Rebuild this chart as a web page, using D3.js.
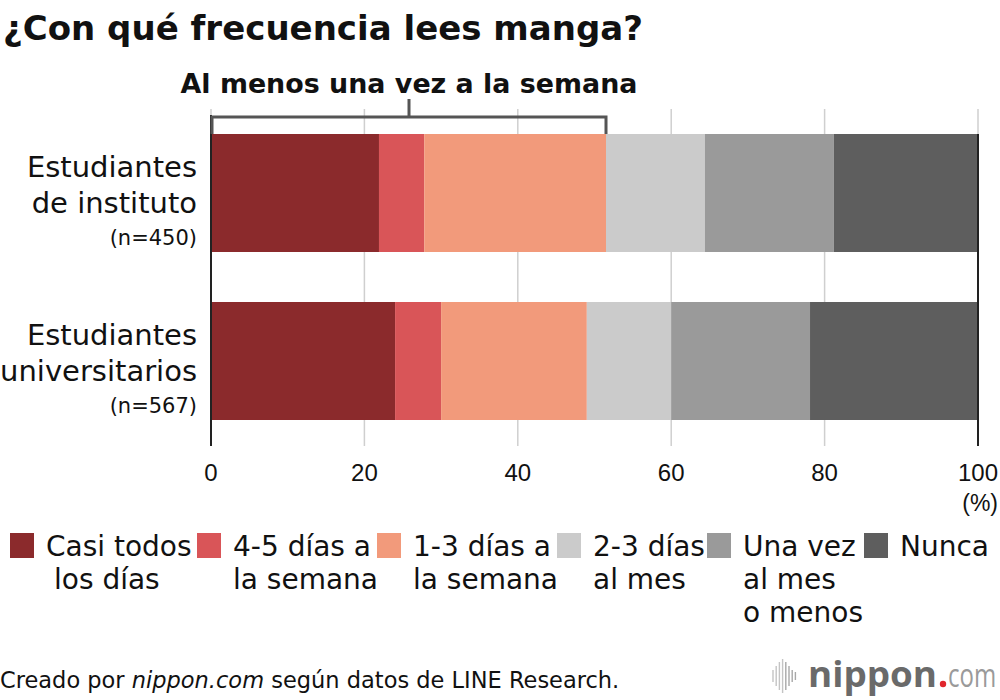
<!DOCTYPE html>
<html>
<head>
<meta charset="utf-8">
<script src="https://cdn.jsdelivr.net/npm/d3@7"></script>
<style>
  body { margin: 0; background: #fff; }
  svg { font-family: "DejaVu Sans", "Liberation Sans", Arial, sans-serif; }
</style>
</head>
<body>
<div id="chart"></div>
<script>
// Data
const groups = ["instituto", "universitarios"];
const groupLabels = [
  ["Estudiantes", "de instituto", "(n=450)"],
  ["Estudiantes", "universitarios", "(n=567)"]
];
const categories = [
  "Casi todos los días", "4-5 días a la semana", "1-3 días a la semana",
  "2-3 días al mes", "Una vez al mes o menos", "Nunca"
];
const legendLines = [
  ["Casi todos", "los días"],
  ["4-5 días a", "la semana"],
  ["1-3 días a", "la semana"],
  ["2-3 días", "al mes"],
  ["Una vez", "al mes", "o menos"],
  ["Nunca"]
];
const valuesInstituto = [21.9, 5.9, 23.7, 12.9, 16.8, 18.8];
const valuesUniversitarios = [24.0, 6.0, 19.0, 11.0, 18.1, 21.9];
const ticks = [0, 20, 40, 60, 80, 100];
const colors = ["#8b2a2c", "#d95558", "#f29a7b", "#cbcbcb", "#9a9a9a", "#5e5e5e"];

const width = 1000, height = 700;
const svg = d3.select("#chart").append("svg")
  .attr("width", width).attr("height", height);

const x = d3.scaleLinear().domain([0, 100]).range([211, 978]);
const y = d3.scaleBand().domain(groups).range([134, 420]).paddingInner(0.2976);

// title
svg.append("text")
  .attr("x", 3).attr("y", 40)
  .attr("font-size", 33).attr("font-weight", "bold").attr("fill", "#111")
  .attr("textLength", 640).attr("lengthAdjust", "spacingAndGlyphs")
  .text("¿Con qué frecuencia lees manga?");

// gridlines
svg.append("g").selectAll("line")
  .data(ticks)
  .join("line")
  .attr("x1", d => x(d)).attr("x2", d => x(d))
  .attr("y1", 109)
  .attr("y2", 446)
  .attr("stroke", "#cfcfcf")
  .attr("stroke-width", 1.5);

// bars
const series = [valuesInstituto, valuesUniversitarios];
series.forEach((vals, i) => {
  let acc = 0;
  const segs = vals.map((v, j) => {
    const s = { x0: acc, x1: acc + v, c: j };
    acc += v;
    return s;
  });
  svg.append("g").selectAll("rect")
    .data(segs)
    .join("rect")
    .attr("x", d => x(d.x0))
    .attr("width", d => x(d.x1) - x(d.x0))
    .attr("y", y(groups[i]))
    .attr("height", y.bandwidth())
    .attr("fill", d => colors[d.c]);
});

// axis edges on top
svg.append("g").selectAll("line")
  .data([0, 100])
  .join("line")
  .attr("x1", d => x(d)).attr("x2", d => x(d))
  .attr("y1", d => d === 0 ? 115 : 134).attr("y2", 446)
  .attr("stroke", "#222").attr("stroke-width", 2);

// bracket: at least once a week (first three categories)
const weekly = d3.sum(valuesInstituto.slice(0, 3));
const bx0 = x(0) + 1, bx1 = x(weekly), by = 117;
const bracket = svg.append("g").attr("stroke", "#555").attr("stroke-width", 3).attr("fill", "none");
bracket.append("path")
  .attr("d", `M${bx0},134V${by}H${bx1}V134`);
bracket.append("line")
  .attr("x1", (bx0 + bx1) / 2).attr("x2", (bx0 + bx1) / 2)
  .attr("y1", 99).attr("y2", by);
svg.append("text")
  .attr("x", (bx0 + bx1) / 2).attr("y", 93)
  .attr("text-anchor", "middle")
  .attr("font-size", 27).attr("font-weight", "bold").attr("fill", "#111")
  .attr("textLength", 457).attr("lengthAdjust", "spacingAndGlyphs")
  .text("Al menos una vez a la semana");

// group labels
groups.forEach((g, i) => {
  const top = y(g);
  const lab = svg.append("text").attr("text-anchor", "end").attr("fill", "#111");
  lab.append("tspan").attr("x", 197).attr("y", top + 43).attr("font-size", 29).text(groupLabels[i][0]);
  lab.append("tspan").attr("x", 197).attr("y", top + 79).attr("font-size", 29).text(groupLabels[i][1]);
  lab.append("tspan").attr("x", 197).attr("y", top + 111).attr("font-size", 21).text(groupLabels[i][2]);
});

// tick labels
svg.append("g").selectAll("text")
  .data(ticks)
  .join("text")
  .attr("x", d => d === 100 ? x(d) + 20 : x(d))
  .attr("y", 481)
  .attr("text-anchor", d => d === 100 ? "end" : "middle")
  .attr("font-family", "Liberation Sans, Arial, sans-serif")
  .attr("font-size", 24).attr("fill", "#111")
  .text(d => d);
svg.append("text")
  .attr("x", 998).attr("y", 511).attr("text-anchor", "end")
  .attr("font-family", "Liberation Sans, Arial, sans-serif")
  .attr("font-size", 23).attr("fill", "#111").text("(%)");

// legend
const legendX = [10, 197, 377, 557, 707, 864];
const leg = svg.append("g").selectAll("g")
  .data(categories)
  .join("g")
  .attr("transform", (d, i) => `translate(${legendX[i]}, 533)`);
leg.append("rect")
  .attr("width", 24).attr("height", 25)
  .attr("fill", (d, i) => colors[i]);
leg.each(function (d, i) {
  const t = d3.select(this).append("text").attr("font-size", 28).attr("fill", "#111");
  legendLines[i].forEach((ln, k) => {
    t.append("tspan")
      .attr("x", (i === 0 && k > 0) ? 44 : 36)
      .attr("y", 23 + k * 33)
      .text(ln);
  });
});

// footer
const foot = svg.append("text").attr("x", 0).attr("y", 688)
  .attr("font-size", 22.5).attr("fill", "#111");
foot.append("tspan").text("Creado por ");
foot.append("tspan").attr("font-style", "italic").text("nippon.com");
foot.append("tspan").text(" según datos de LINE Research.");

// logo
const logo = svg.append("g");
const barH = [12, 20, 28, 34, 28, 20, 12, 8];
logo.selectAll("line")
  .data(barH)
  .join("line")
  .attr("x1", (d, i) => 773 + i * 3.2).attr("x2", (d, i) => 773 + i * 3.2)
  .attr("y1", d => 676 - d / 2).attr("y2", d => 676 + d / 2)
  .attr("stroke", (d, i) => i < 4 ? "#c4c4c4" : "#a8a8a8").attr("stroke-width", 1.4);
logo.append("text").attr("x", 808).attr("y", 687)
  .attr("font-family", "Open Sans, sans-serif").attr("font-size", 35)
  .attr("fill", "#6a6a6a").attr("font-weight", "bold")
  .attr("textLength", 129).attr("lengthAdjust", "spacingAndGlyphs")
  .text("nippon");
logo.append("circle").attr("cx", 943).attr("cy", 684).attr("r", 3.2).attr("fill", "#e0262d");
logo.append("text")
  .attr("transform", "translate(948,687) scale(1,1.38)")
  .attr("font-family", "Open Sans, sans-serif").attr("font-size", 24)
  .attr("fill", "#9a9a9a")
  .text("com");
</script>
</body>
</html>
